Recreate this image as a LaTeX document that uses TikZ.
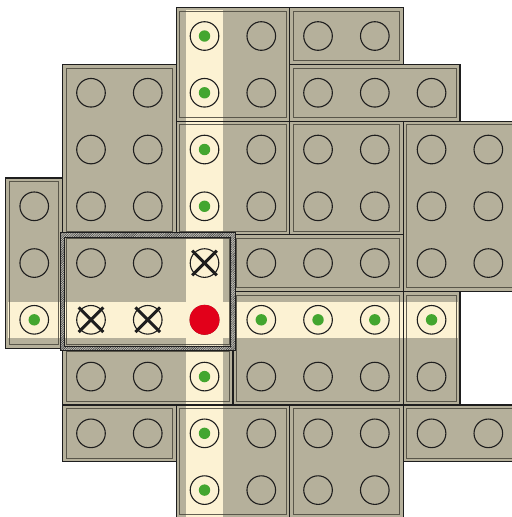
\documentclass[tikz,border=0pt]{standalone}
\usetikzlibrary{patterns.meta}
\definecolor{brick}{HTML}{B5B09B}
\definecolor{cream}{HTML}{FCF2D3}
\definecolor{studgreen}{HTML}{43A62F}
\definecolor{studred}{HTML}{E2001A}
\definecolor{edgedark}{HTML}{1E1E1E}
\definecolor{edgeinner}{HTML}{4A473C}
\definecolor{framebg}{HTML}{C9C7BE}
\tikzset{
  outerline/.style={draw=edgedark,line width=1.2pt},
  innerline/.style={draw=edgeinner,line width=0.9pt,draw opacity=0.85},
  stud/.style={draw=edgedark,line width=1.1pt},
  crossmark/.style={draw=edgedark,line width=3pt},
}
\def\pieces{3/0/5/2,5/0/7/1,1/1/3/4,5/1/8/2,3/2/5/4,5/2/7/4,7/2/9/5,0/3/1/6,1/4/4/6,4/4/7/5,4/5/7/7,7/5/8/7,1/6/4/7,1/7/3/8,3/7/5/9,5/7/7/9,7/7/9/8}
\begin{document}
\begin{tikzpicture}[x=56.76pt,y=-56.76pt]
\clip (-0.1032,-0.1343) rectangle (8.917,8.974);
% fills
\foreach \a/\b/\c/\d in \pieces { \fill[brick] (\a,\b) rectangle (\c,\d); }
% highlighted bands
\fill[cream] (3.18,0.05) rectangle (3.82,9.2);
\fill[cream] (0.03,5.18) rectangle (7.96,5.82);
% borders
\foreach \a/\b/\c/\d in \pieces {
  \draw[innerline] ([xshift=3.7pt,yshift=-3.7pt]\a,\b) rectangle ([xshift=-3.7pt,yshift=3.7pt]\c,\d);
  \draw[outerline] (\a,\b) rectangle (\c,\d);
}
% studs
\foreach \a/\b/\c/\d in \pieces {
  \pgfmathtruncatemacro\ce{\c-1}
  \pgfmathtruncatemacro\de{\d-1}
  \foreach \i in {\a,...,\ce} {
    \foreach \j in {\b,...,\de} {
      \draw[stud] (\i+0.5,\j+0.5) circle[radius=14.3pt];
    }
  }
}
% green dots
\foreach \i/\j in {3/0,3/1,3/2,3/3,3/6,3/7,3/8,0/5,4/5,5/5,6/5,7/5} {
  \fill[studgreen] (\i+0.5,\j+0.5) circle[radius=5.7pt];
}
% crosses
\foreach \i/\j in {3/4,1/5,2/5} {
  \draw[crossmark] ([xshift=-12.3pt,yshift=12.3pt]\i+0.5,\j+0.5) -- ([xshift=12.3pt,yshift=-12.3pt]\i+0.5,\j+0.5);
  \draw[crossmark] ([xshift=-12.3pt,yshift=-12.3pt]\i+0.5,\j+0.5) -- ([xshift=12.3pt,yshift=12.3pt]\i+0.5,\j+0.5);
}
% red stud
\fill[studred] (3.5,5.5) circle[radius=15pt];
% hatched frame around selected brick
\fill[framebg,even odd rule] ([xshift=-2.2pt,yshift=2.2pt]1,4) rectangle ([xshift=2.2pt,yshift=-2.2pt]4,6)
  ([xshift=2.2pt,yshift=-2.2pt]1,4) rectangle ([xshift=-2.2pt,yshift=2.2pt]4,6);
\fill[pattern={Lines[angle=45,distance=1.6pt,line width=0.6pt]},pattern color=black!75,even odd rule]
  ([xshift=-2.2pt,yshift=2.2pt]1,4) rectangle ([xshift=2.2pt,yshift=-2.2pt]4,6)
  ([xshift=2.2pt,yshift=-2.2pt]1,4) rectangle ([xshift=-2.2pt,yshift=2.2pt]4,6);
\draw[edgedark,line width=0.7pt] ([xshift=-2.2pt,yshift=2.2pt]1,4) rectangle ([xshift=2.2pt,yshift=-2.2pt]4,6);
\draw[edgedark,line width=0.7pt] ([xshift=2.2pt,yshift=-2.2pt]1,4) rectangle ([xshift=-2.2pt,yshift=2.2pt]4,6);
\end{tikzpicture}
\end{document}
